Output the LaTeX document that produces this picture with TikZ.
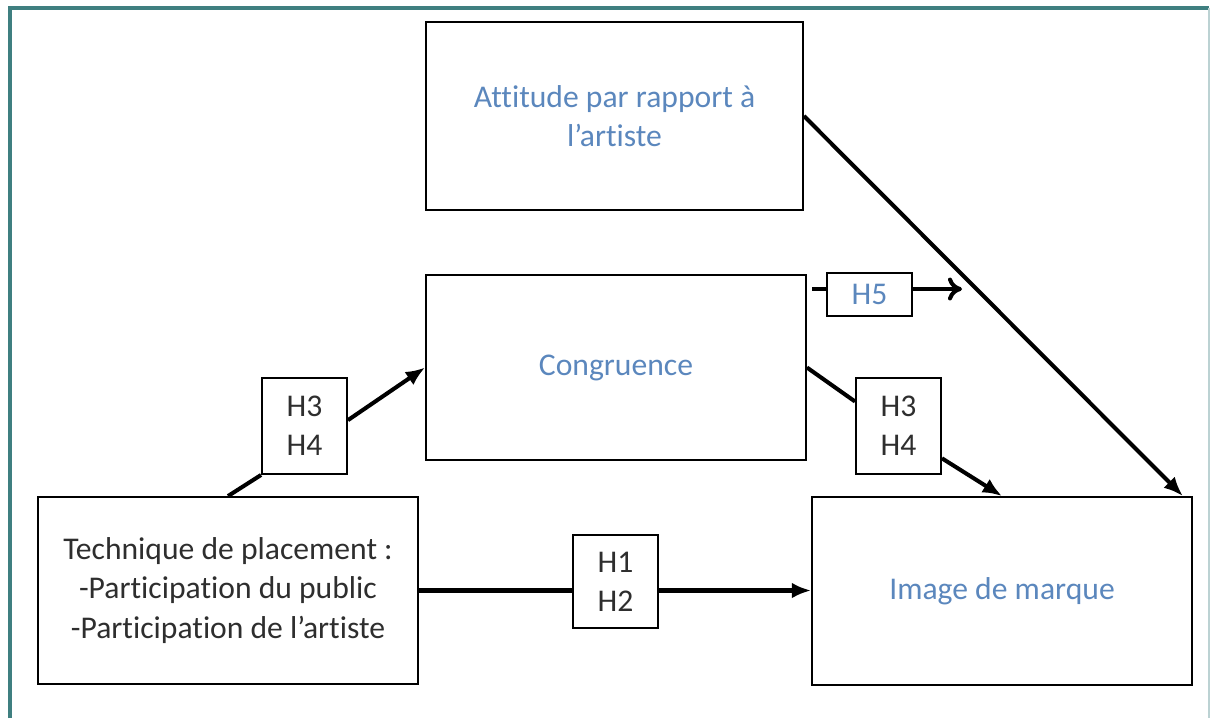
\documentclass[tikz,border=0pt]{standalone}
\usepackage{fontspec}
\setmainfont[Ligatures=NoCommon]{Carlito}
\usetikzlibrary{arrows.meta,calc}
\definecolor{framecol}{HTML}{3F7F80}
\definecolor{labelblue}{HTML}{5B87BD}
\definecolor{textgray}{HTML}{2E2E2E}
\begin{document}
\begin{tikzpicture}[x=0.02cm, y=-0.02cm,
    box/.style={draw, line width=1.1pt, minimum width=7.6cm, minimum height=3.74cm,
      align=center, inner sep=0pt, font=\fontsize{18}{22.4}\selectfont},
    hyp/.style={draw, line width=1.1pt, minimum width=1.7cm, minimum height=1.92cm,
      align=center, inner sep=0pt, text=textgray, font=\fontsize{18}{22.4}\selectfont},
    link/.style={line width=2.3pt},
    arrow/.style={line width=2.3pt, -{Latex[length=11pt, width=9pt]}}
  ]
    \useasboundingbox (0,0) rectangle (1212,718);
    % frame
    \draw[framecol, line width=2.3pt] (10,718) -- (10,8) -- (1209,8);
    \draw[framecol!35, line width=1pt] (1209,8) -- (1209,718);
    % boxes
    \node[box, text=labelblue, minimum width=7.54cm, minimum height=3.76cm] (att) at (614.5,116) {Attitude par rapport à\\l’artiste};
    \node[box, text=labelblue, minimum height=3.7cm] (cong) at (616,367.5) {Congruence};
    \node[box, text=textgray] (tech) at (228,590.5) {Technique de placement :\\-Participation du public\\-Participation de l’artiste};
    \node[box, text=labelblue, minimum height=3.76cm] (img) at (1002,591) {Image de marque};
    % hypotheses
    \node[hyp] (hl) at (304.5,426) {H3\\H4};
    \node[hyp, minimum height=1.86cm] (h12) at (615.5,581.5) {H1\\H2};
    \node[hyp] (hr) at (898.5,426) {H3\\H4};
    \node[hyp, minimum height=0.86cm, text=labelblue] (h5) at (869.5,294.5) {H5};
    \coordinate (h5in) at (812,289);
    \coordinate (h5out) at (962,289);
    % connectors
    \draw[link] (tech.north) -- (hl.south west);
    \draw[arrow] ($(hl.north east)!0.44!(hl.south east)$) -- (cong.west);
    \draw[link] (tech.east) -- (h12.west |- tech.east);
    \draw[arrow] (h12.east |- tech.east) -- (img.west |- tech.east);
    \draw[link] (cong.east) -- ($(hr.north west)!0.25!(hr.south west)$);
    \draw[arrow] ($(hr.north east)!0.83!(hr.south east)$) -- (img.north);
    \draw[arrow] (att.east) -- ($(img.north east)+(-10,0)$);
    \draw[link] (h5in) -- (h5in -| h5.west);
    \draw[line width=2.3pt, -{To[length=8pt, width=13pt]}] (h5out -| h5.east) -- (h5out);
\end{tikzpicture}
\end{document}
